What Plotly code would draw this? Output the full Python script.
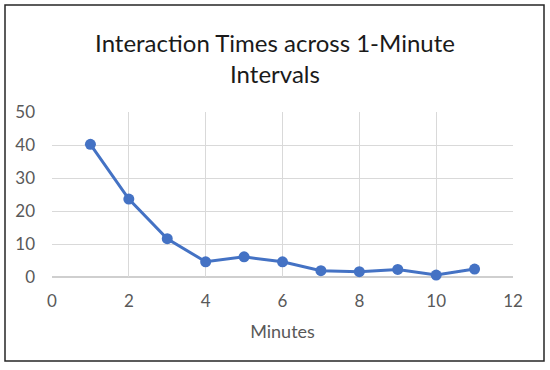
import plotly.graph_objects as go

minutes = [1, 2, 3, 4, 5, 6, 7, 8, 9, 10, 11]
interaction_times = [40.2, 23.6, 11.6, 4.6, 6.1, 4.6, 1.9, 1.6, 2.3, 0.6, 2.4]

title_text = "Interaction Times across 1-Minute<br>Intervals"
x_title = "Minutes"

W, H = 550, 370
ml, mr, mt, mb = 52, 37, 112, 93
pw, ph = W - ml - mr, H - mt - mb

fig = go.Figure()
fig.add_trace(go.Scatter(
    x=minutes, y=interaction_times, mode="lines+markers",
    line=dict(color="#4472C4", width=3),
    marker=dict(color="#4472C4", size=11),
    showlegend=False, cliponaxis=False,
))

font_fam = "Lato, 'Open Sans', sans-serif"
fig.update_layout(
    width=W, height=H,
    margin=dict(l=ml, r=mr, t=mt, b=mb),
    paper_bgcolor="white", plot_bgcolor="white",
    font=dict(family=font_fam, color="#595959", size=17),
    title=dict(text=title_text, x=0.5, xref="container", xanchor="center",
               y=1 - 52 / H, yref="container", yanchor="middle",
               font=dict(family=font_fam, size=24, color="#1a1a1a")),
    xaxis=dict(range=[0, 12], dtick=2, tick0=0, showgrid=True, gridcolor="#D9D9D9",
               gridwidth=1, zeroline=False, showline=False,
               ticklabelstandoff=12,
               title=dict(text=x_title, standoff=15, font=dict(size=18, color="#595959"))),
    yaxis=dict(range=[0, 50], dtick=10, tick0=0, showgrid=True, gridcolor="#D9D9D9",
               gridwidth=1, zeroline=False, showline=False,
               ticklabelstandoff=16),
    shapes=[
        dict(type="rect", xref="paper", yref="paper",
             x0=(5 - ml) / pw, x1=(544 - ml) / pw,
             y0=(H - mb - 361) / ph, y1=(H - mb - 5) / ph,
             line=dict(color="#262626", width=1.5), fillcolor="rgba(0,0,0,0)", layer="below"),
        dict(type="line", xref="paper", yref="paper", x0=0, x1=1, y0=0, y1=0,
             line=dict(color="#BFBFBF", width=1.5), layer="below"),
    ],
)

fig.write_html("out.html", config={"displayModeBar": False},
               post_script="document.body.style.margin='0';")
